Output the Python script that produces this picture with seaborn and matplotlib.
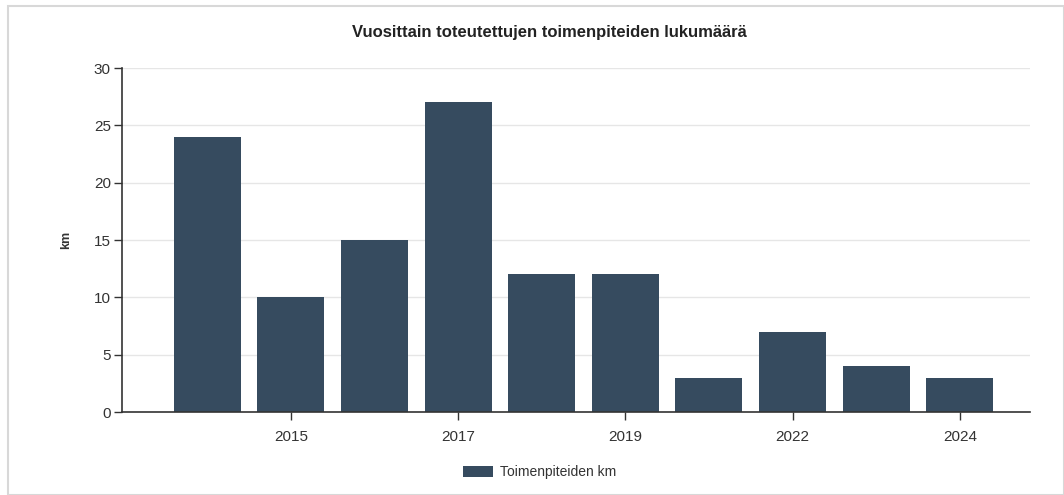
import matplotlib.pyplot as plt
import seaborn as sns
import pandas as pd
from matplotlib.patches import Rectangle

# Daten
vuodet = ["2014", "2015", "2016", "2017", "2018", "2019", "2021", "2022", "2023", "2024"]
km = [24, 10, 15, 27, 12, 12, 3, 7, 4, 3]
nayta_vuodet = ["2015", "2017", "2019", "2022", "2024"]

df = pd.DataFrame({"Vuosi": vuodet, "km": km})

sns.set_theme(style="white")
plt.rcParams["font.family"] = ["Liberation Sans", "DejaVu Sans"]

fig = plt.figure(figsize=(10.64, 4.95), dpi=100)
ax = fig.add_axes([122 / 1064, 1 - 412 / 495, (1030 - 122) / 1064, (412 - 68) / 495])

sns.barplot(data=df, x="Vuosi", y="km", order=vuodet, color="#364b5f",
            saturation=1, width=0.8, linewidth=0, label="Toimenpiteiden km", ax=ax)

ax.set_xlim(-1.02, 9.84)
ax.set_ylim(0, 30)
ax.set_yticks(range(0, 31, 5))
ax.set_xticks([vuodet.index(v) for v in nayta_vuodet])
ax.set_xticklabels(nayta_vuodet)
ax.yaxis.grid(True, color="#e6e6e6", linewidth=1)
ax.set_axisbelow(True)

for s in ["top", "right"]:
    ax.spines[s].set_visible(False)
for s in ["left", "bottom"]:
    ax.spines[s].set_color("#333333")
    ax.spines[s].set_linewidth(1.2)

ax.tick_params(axis="both", which="both", length=6, width=1, color="#333333",
               labelsize=11, labelcolor="#333333", direction="out",
               bottom=True, left=True)
ax.tick_params(axis="y", pad=2)
ax.tick_params(axis="x", pad=7)

ax.set_xlabel("")
ax.set_ylabel("km", fontsize=9, fontweight="bold", color="#333333", labelpad=16)

fig.text(0.516, 1 - 33 / 495, "Vuosittain toteutettujen toimenpiteiden lukumäärä",
         ha="center", va="center", fontsize=12, fontweight="bold", color="#222222")

ax.legend(loc="center", bbox_to_anchor=(0.46, -0.175), frameon=False, fontsize=10,
          handlelength=2.2, handleheight=0.8, handletextpad=0.5, labelcolor="#333333")

fig.add_artist(Rectangle((8 / 1064, 0), 1 - 8 / 1064, 1 - 6 / 495, transform=fig.transFigure,
                         fill=False, edgecolor="#d8d8d8", linewidth=1.5))

fig.savefig("out.png", dpi=100)
